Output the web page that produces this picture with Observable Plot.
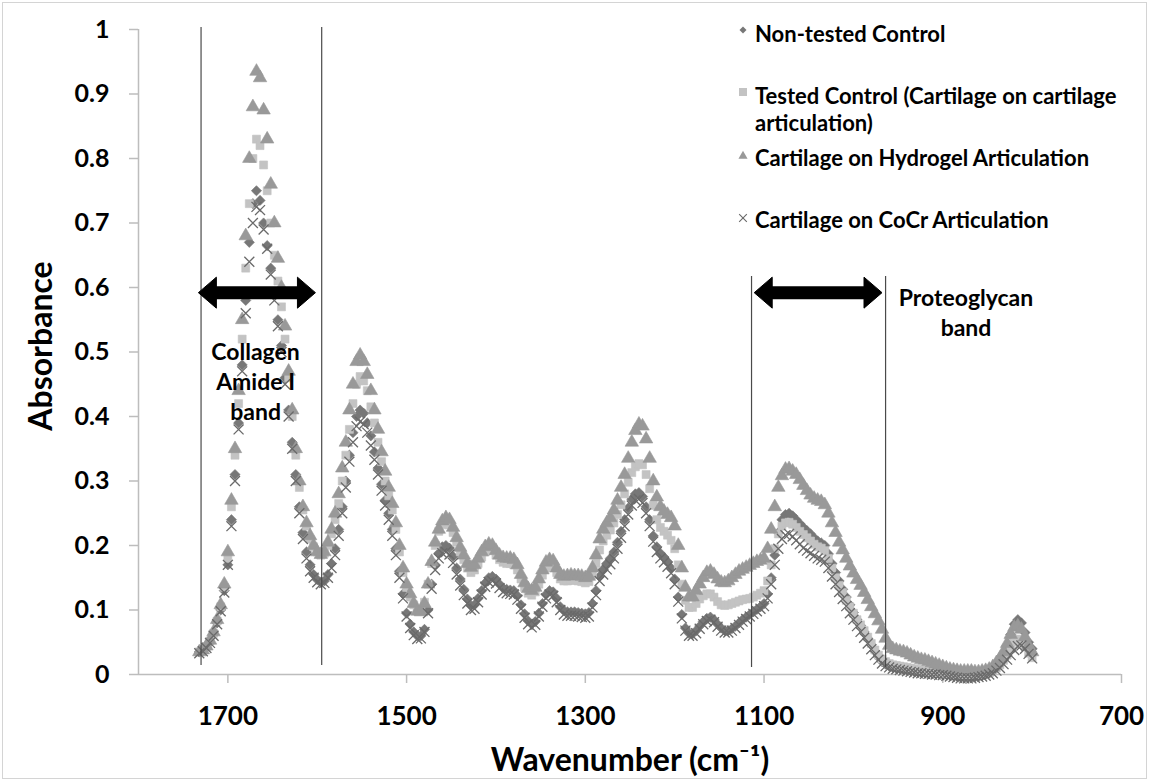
<!DOCTYPE html>
<html>
<head>
<meta charset="utf-8">
<script src="https://cdn.jsdelivr.net/npm/d3@7"></script>
<script src="https://cdn.jsdelivr.net/npm/@observablehq/plot@0.6"></script>
<style>
  body { margin: 0; background: #fff; }
  #wrap { position: relative; width: 1150px; height: 782px; overflow: hidden; background: #fff; }
  #frame { position: absolute; left: 2px; top: 2px; width: 1145px; height: 777px; border: 1px solid #d4d4d4; box-sizing: border-box; pointer-events: none; }
  #chart { position: absolute; left: 0; top: 0; }
  .leg { position: absolute; left: 755px; width: 380px; font-family: Lato, sans-serif; font-weight: bold; font-size: 22px; line-height: 27px; color: #000; }
  .legmk { position: absolute; left: 736px; }
  svg g[aria-label="x-axis tick label"], svg g[aria-label="x-axis"] text { font-family: Lato, sans-serif; font-weight: bold; font-size: 26px; }
  svg g[aria-label="y-axis tick label"], svg g[aria-label="y-axis"] text { font-family: Lato, sans-serif; font-weight: bold; font-size: 25px; }
  svg g[aria-label="x-axis tick"], svg g[aria-label="y-axis tick"], svg g[aria-label="x-axis"] line, svg g[aria-label="y-axis"] line { stroke: #bdbdbd; stroke-width: 1.5; }
</style>
</head>
<body>
<div id="wrap"><div id="chart"></div><div id="legend"></div><div id="frame"></div></div>
<script>
// ---- Data ----
const wavenumber = [
  1732,1728,1724,1720,1716,1712,1708,1704,1700,1696,
  1692,1688,1684,1680,1676,1672,1668,1664,1660,1656,
  1652,1648,1644,1640,1636,1632,1628,1624,1620,1616,
  1612,1608,1604,1600,1596,1592,1588,1584,1580,1576,
  1572,1568,1564,1560,1556,1552,1548,1544,1540,1536,
  1532,1528,1524,1520,1516,1512,1508,1504,1500,1496,
  1492,1488,1484,1480,1476,1472,1468,1464,1460,1456,
  1452,1448,1444,1440,1436,1432,1428,1424,1420,1416,
  1412,1408,1404,1400,1396,1392,1388,1384,1380,1376,
  1372,1368,1364,1360,1356,1352,1348,1344,1340,1336,
  1332,1328,1324,1320,1316,1312,1308,1304,1300,1296,
  1292,1288,1284,1280,1276,1272,1268,1264,1260,1256,
  1252,1248,1244,1240,1236,1232,1228,1224,1220,1216,
  1212,1208,1204,1200,1196,1192,1188,1184,1180,1176,
  1172,1168,1164,1160,1156,1152,1148,1144,1140,1136,
  1132,1128,1124,1120,1116,1112,1108,1104,1100,1096,
  1092,1088,1084,1080,1076,1072,1068,1064,1060,1056,
  1052,1048,1044,1040,1036,1032,1028,1024,1020,1016,
  1012,1008,1004,1000,996,992,988,984,980,976,
  972,968,964,960,956,952,948,944,940,936,
  932,928,924,920,916,912,908,904,900,896,
  892,888,884,880,876,872,868,864,860,856,
  852,848,844,840,836,832,828,824,820,816,
  812,808,804,800
];

// Non-tested Control (diamond)
const nonTestedControl = [
  .035,.037,.042,.05,.062,.08,.1,.13,.17,.24,
  .31,.39,.48,.58,.67,.73,.75,.735,.7,.665,
  .63,.59,.55,.51,.46,.41,.36,.31,.26,.22,
  .19,.17,.155,.147,.143,.145,.155,.172,.195,.225,
  .26,.3,.34,.375,.4,.41,.405,.39,.37,.345,
  .32,.295,.27,.25,.225,.195,.16,.125,.095,.078,
  .066,.06,.06,.07,.1,.14,.17,.188,.198,.2,
  .196,.183,.165,.148,.132,.117,.107,.108,.118,.13,
  .142,.15,.152,.148,.14,.134,.132,.131,.13,.122,
  .108,.094,.083,.078,.082,.095,.11,.124,.13,.128,
  .118,.105,.099,.097,.097,.097,.096,.095,.094,.096,
  .11,.13,.152,.163,.172,.18,.19,.205,.222,.24,
  .258,.272,.28,.282,.276,.26,.24,.215,.198,.188,
  .182,.175,.165,.148,.12,.093,.072,.064,.063,.068,
  .075,.082,.087,.089,.085,.078,.072,.068,.068,.071,
  .075,.08,.085,.089,.093,.097,.101,.105,.11,.125,
  .15,.185,.22,.24,.248,.25,.246,.24,.234,.228,
  .223,.218,.212,.207,.204,.2,.187,.172,.158,.145,
  .132,.12,.108,.096,.085,.076,.066,.056,.046,.036,
  .027,.02,.016,.013,.011,.01,.009,.008,.007,.006,
  .005,.004,.003,.003,.002,.002,.001,.001,0,0,
  -.001,-.002,-.003,-.004,-.005,-.005,-.005,-.004,-.003,-.002,
  0,.002,.005,.01,.018,.03,.045,.062,.078,.085,
  .08,.065,.05,.04
];

// Tested Control (square)
const testedControl = [
  .035,.038,.043,.052,.064,.083,.105,.135,.18,.26,
  .34,.42,.52,.63,.73,.8,.83,.82,.79,.75,
  .7,.65,.61,.57,.52,.46,.4,.34,.29,.255,
  .23,.21,.198,.19,.185,.188,.2,.218,.24,.265,
  .3,.34,.38,.42,.45,.462,.455,.44,.415,.39,
  .36,.33,.3,.277,.255,.225,.19,.158,.135,.12,
  .108,.1,.1,.112,.14,.172,.2,.222,.232,.235,
  .232,.22,.205,.19,.178,.165,.158,.162,.172,.182,
  .19,.193,.192,.185,.178,.174,.172,.172,.17,.162,
  .148,.135,.126,.123,.128,.14,.154,.165,.17,.168,
  .158,.148,.145,.145,.146,.146,.145,.144,.142,.144,
  .155,.172,.193,.207,.216,.224,.235,.248,.263,.28,
  .298,.313,.322,.327,.325,.31,.288,.262,.24,.228,
  .222,.216,.208,.195,.17,.14,.115,.104,.104,.11,
  .117,.122,.125,.125,.12,.113,.108,.107,.108,.11,
  .112,.114,.116,.117,.118,.12,.123,.126,.13,.145,
  .17,.195,.218,.23,.235,.236,.233,.228,.222,.217,
  .212,.207,.202,.198,.196,.192,.18,.165,.15,.138,
  .127,.115,.105,.095,.085,.077,.068,.058,.048,.038,
  .03,.024,.02,.017,.015,.014,.013,.012,.011,.01,
  .009,.008,.007,.006,.005,.004,.003,.003,.002,.002,
  .001,.001,0,0,0,0,0,0,0,.001,
  .002,.003,.006,.01,.015,.022,.03,.04,.05,.055,
  .052,.043,.033,.026
];

// Cartilage on Hydrogel Articulation (triangle)
const hydrogel = [
  .035,.038,.044,.053,.066,.085,.108,.14,.19,.27,
  .35,.44,.55,.68,.8,.88,.935,.925,.875,.83,
  .76,.7,.645,.6,.54,.47,.41,.35,.3,.26,
  .235,.215,.2,.19,.186,.19,.205,.225,.25,.28,
  .32,.36,.41,.45,.485,.495,.485,.465,.44,.41,
  .38,.345,.315,.29,.265,.235,.2,.165,.14,.125,
  .11,.098,.097,.11,.14,.175,.205,.225,.238,.243,
  .24,.228,.212,.197,.185,.172,.166,.17,.18,.19,
  .198,.202,.2,.192,.185,.181,.18,.18,.178,.17,
  .155,.142,.133,.13,.135,.148,.162,.174,.178,.176,
  .165,.155,.152,.153,.154,.153,.153,.152,.15,.152,
  .165,.185,.21,.225,.235,.243,.255,.27,.29,.31,
  .335,.36,.378,.388,.385,.365,.335,.3,.275,.26,
  .253,.248,.243,.23,.2,.165,.135,.12,.12,.13,
  .14,.15,.158,.16,.155,.148,.143,.142,.145,.15,
  .155,.16,.163,.166,.169,.172,.175,.177,.18,.195,
  .225,.26,.29,.308,.318,.319,.315,.31,.302,.293,
  .285,.278,.273,.27,.268,.263,.25,.235,.22,.205,
  .193,.18,.168,.157,.147,.138,.127,.116,.105,.094,
  .083,.07,.056,.045,.04,.038,.036,.035,.033,.03,
  .027,.025,.023,.022,.02,.018,.016,.014,.012,.01,
  .008,.007,.006,.005,.005,.005,.005,.004,.004,.005,
  .006,.008,.012,.018,.025,.035,.048,.062,.073,.075,
  .07,.058,.045,.035
];

// Cartilage on CoCr Articulation (cross)
const cocr = [
  .033,.036,.041,.049,.06,.078,.098,.127,.17,.23,
  .3,.38,.47,.56,.64,.7,.725,.72,.69,.66,
  .62,.58,.54,.5,.45,.4,.35,.3,.25,.21,
  .18,.16,.15,.143,.14,.142,.15,.165,.185,.215,
  .25,.29,.33,.36,.385,.392,.388,.375,.355,.333,
  .31,.285,.262,.24,.215,.185,.15,.118,.09,.072,
  .061,.055,.056,.066,.095,.133,.162,.18,.188,.19,
  .186,.173,.155,.138,.123,.11,.1,.102,.112,.124,
  .136,.143,.145,.141,.134,.128,.126,.125,.124,.116,
  .102,.088,.078,.073,.077,.09,.105,.118,.124,.122,
  .112,.1,.093,.091,.091,.091,.09,.089,.088,.09,
  .104,.123,.145,.155,.163,.171,.18,.195,.212,.23,
  .248,.262,.27,.272,.266,.25,.23,.206,.19,.18,
  .174,.167,.157,.14,.113,.087,.068,.06,.06,.064,
  .071,.078,.083,.085,.081,.074,.068,.065,.065,.068,
  .072,.077,.082,.086,.09,.094,.098,.102,.106,.118,
  .14,.17,.195,.21,.216,.218,.214,.208,.202,.196,
  .192,.188,.184,.18,.178,.175,.165,.152,.14,.128,
  .117,.106,.095,.085,.075,.066,.057,.048,.039,.03,
  .023,.017,.013,.011,.009,.008,.007,.006,.005,.004,
  .003,.002,.002,.001,.001,0,0,-.001,-.001,-.002,
  -.003,-.004,-.005,-.006,-.006,-.006,-.006,-.005,-.004,-.003,
  -.002,0,.002,.006,.01,.016,.023,.03,.038,.044,
  .045,.04,.032,.025
];

const seriesNames = [
  "Non-tested Control",
  "Tested Control (Cartilage on cartilage articulation)",
  "Cartilage on Hydrogel Articulation",
  "Cartilage on CoCr Articulation"
];
const xTicks = [1700, 1500, 1300, 1100, 900, 700];
const yTicks = [0, 0.1, 0.2, 0.3, 0.4, 0.5, 0.6, 0.7, 0.8, 0.9, 1];

// Band annotations
const bandEdges = [1730, 1595, 1114, 964];
const bandEdgeTop = [1.003, 1.003, 0.617, 0.617];
const bandEdgeBottom = [0.014, 0.014, 0.011, 0.011];
const arrowFrom = [1733, 1111];
const arrowTo = [1602, 968];
const arrowLevel = [0.592, 0.592];
const bandLabels = ["Collagen\nAmide I\nband", "Proteoglycan\nband"];
const bandLabelX = [1669, 874];
const bandLabelY = [0.456, 0.563];

// ---- Build tables for the library ----
const styles = [
  {symbol: "diamond2", fill: "#777777", r: 4.6},
  {symbol: "square", fill: "#c3c3c3", r: 4.5},
  {symbol: "triangle", fill: "#999999", r: 5},
  {symbol: "times", stroke: "#6a6a6a", r: 4.6}
];
const seriesValues = [nonTestedControl, testedControl, hydrogel, cocr];
const seriesRows = seriesValues.map(vals => vals.map((v, i) => ({wn: wavenumber[i], abs: v})));

const edges = bandEdges.map((x, i) => ({x, y1: bandEdgeBottom[i], y2: bandEdgeTop[i]}));
const arrows = arrowFrom.map((x1, i) => ({x1, x2: arrowTo[i], y: arrowLevel[i]}));
const labels = bandLabels.map((t, i) => ({t, x: bandLabelX[i], y: bandLabelY[i]}));

const headLeft = {draw(ctx) { ctx.moveTo(0, 0); ctx.lineTo(18, -15.5); ctx.lineTo(18, 15.5); ctx.closePath(); }};
const headRight = {draw(ctx) { ctx.moveTo(0, 0); ctx.lineTo(-18, -15.5); ctx.lineTo(-18, 15.5); ctx.closePath(); }};

const dotMarks = seriesRows.map((rows, k) => {
  const s = styles[k];
  const opts = {x: "wn", y: "abs", symbol: s.symbol, r: s.r};
  if (s.fill) { opts.fill = s.fill; opts.stroke = s.fill; opts.strokeWidth = 0.6; }
  else { opts.stroke = s.stroke; opts.strokeWidth = 1.3; opts.fill = "none"; }
  return Plot.dot(rows, opts);
});

const chart = Plot.plot({
  width: 1150,
  height: 782,
  marginLeft: 138,
  marginRight: 29,
  marginTop: 29,
  marginBottom: 108,
  style: {background: "transparent", color: "#000", fontFamily: "Lato, sans-serif", overflow: "visible"},
  x: {domain: [1800, 700], ticks: xTicks, tickSize: 9, tickPadding: 23, tickFormat: d => String(d), label: null},
  y: {domain: [0, 1], ticks: yTicks, tickSize: 9, tickPadding: 20, tickFormat: d => String(d), label: null},
  marks: [
    Plot.ruleX([1800], {stroke: "#bdbdbd", strokeWidth: 1.5}),
    Plot.ruleY([0], {stroke: "#bdbdbd", strokeWidth: 1.5}),
    ...dotMarks,
    Plot.ruleX(edges, {x: "x", y1: "y1", y2: "y2", stroke: "#4a4a4a", strokeWidth: 1.2}),
    Plot.ruleY(arrows, {y: "y", x1: "x1", x2: "x2", stroke: "#000", strokeWidth: 13, insetLeft: 12, insetRight: 12}),
    Plot.dot(arrows, {x: "x1", y: "y", symbol: headLeft, fill: "#000", stroke: "#000", strokeWidth: 1, strokeLinejoin: "round"}),
    Plot.dot(arrows, {x: "x2", y: "y", symbol: headRight, fill: "#000", stroke: "#000", strokeWidth: 1, strokeLinejoin: "round"}),
    Plot.text(labels, {x: "x", y: "y", text: "t", fontSize: 23, fontWeight: "bold", fontFamily: "Lato, sans-serif", lineHeight: 1.3, textAnchor: "middle", lineAnchor: "middle", fill: "#000"}),
    Plot.text(["Absorbance"], {frameAnchor: "left", rotate: -90, dx: -97, dy: -6, fontSize: 32, fontWeight: "bold", fontFamily: "Lato, sans-serif", textAnchor: "middle", lineAnchor: "middle", fill: "#000"}),
    Plot.text(["Wavenumber (cm\u207B\u00B9)"], {frameAnchor: "bottom", dy: 86, fontSize: 32, fontWeight: "bold", fontFamily: "Lato, sans-serif", textAnchor: "middle", lineAnchor: "middle", fill: "#000"})
  ]
});
document.getElementById("chart").appendChild(chart);

// ---- Legend (top right, inside plot area) ----
const legend = document.getElementById("legend");
const legendTextTop = [19.5, 81.5, 143.5, 205.5];
const legendMarkY = [30, 92, 156, 218];
const legendSymbols = [
  {type: d3.symbolDiamond2, size: 31, fill: "#777777"},
  {type: d3.symbolSquare, size: 64, fill: "#c3c3c3"},
  {type: d3.symbolTriangle, size: 36, fill: "#999999"},
  {type: d3.symbolTimes, size: 40, stroke: "#6a6a6a"}
];
seriesNames.forEach((name, i) => {
  const t = document.createElement("div");
  t.className = "leg";
  t.style.top = legendTextTop[i] + "px";
  t.textContent = name;
  legend.appendChild(t);
  const s = legendSymbols[i];
  const svg = d3.create("svg").attr("class", "legmk").attr("width", 14).attr("height", 14)
    .style("top", (legendMarkY[i] - 7) + "px");
  svg.append("path").attr("transform", "translate(7,7)")
    .attr("d", d3.symbol(s.type, s.size)())
    .attr("fill", s.fill || "none").attr("stroke", s.stroke || "none").attr("stroke-width", 1.1);
  legend.appendChild(svg.node());
});
</script>
</body>
</html>
